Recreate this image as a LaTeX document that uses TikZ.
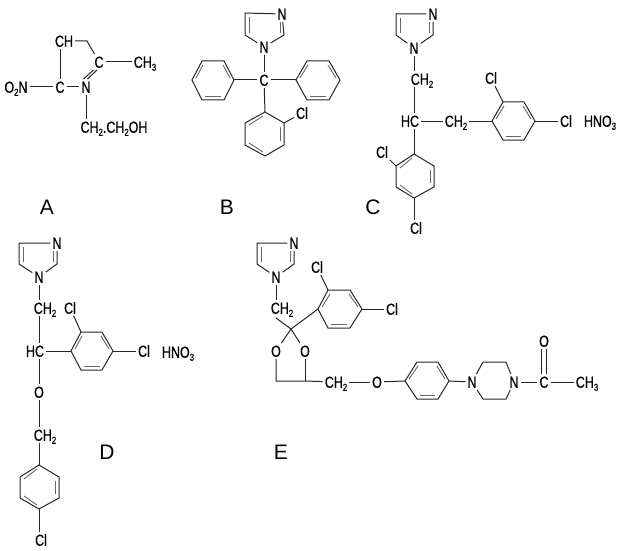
\documentclass[tikz,border=0pt]{standalone}
\usepackage{fontspec}
\setmainfont{Liberation Sans}
\newfontfamily\atomfont[FakeStretch=0.78,FakeBold=0.6]{Liberation Sans}
\newcommand{\lowidx}[1]{\raisebox{-3pt}{\fontsize{10}{10}\selectfont #1}}
\tikzset{
  atom/.style={inner sep=2pt, text height=11.5pt, text depth=0pt, font=\atomfont\fontsize{16}{16}\selectfont},
  tag/.style={inner sep=0pt, text height=15pt, text depth=0pt, font=\fontsize{21}{21}\selectfont},
  bond/.style={black!85, line width=1pt},
  inbond/.style={black!60, line width=.9pt}
}
\begin{document}
\begin{tikzpicture}[x=1pt,y=-1pt]
\useasboundingbox (0,0) rectangle (619,551);
% Nodes
\node[atom] (aCH) at (64,41) {CH};
\node[atom] (aCb) at (99,62) {C};
\node[atom] (aMe) at (145,62) {CH\lowidx{3}};
\node[atom] (aNO) at (16,87) {O\lowidx{2}N};
\node[atom] (aC) at (60,87) {C};
\node[atom] (aN) at (86,87) {N};
\node[atom] (aEt) at (114,127) {CH\lowidx{2}.CH\lowidx{2}OH};
\node[atom] (bNt) at (282,14) {N};
\node[atom] (bN) at (264,47) {N};
\node[atom] (bC) at (264,80) {C};
\node[atom] (bCl) at (302,113) {Cl};
\node[atom] (cNt) at (433,14) {N};
\node[atom] (cN) at (414,48) {N};
\node[atom] (cCHa) at (422,79) {CH\lowidx{2}};
\node[atom] (cHC) at (410,121) {HC};
\node[atom] (cCHb) at (456,121) {CH\lowidx{2}};
\node[atom] (cClt) at (491,78) {Cl};
\node[atom] (cClr) at (566,121) {Cl};
\node[atom] (cAcid) at (600,121) {HNO\lowidx{3}};
\node[atom] (cClb) at (382,152) {Cl};
\node[atom] (cCld) at (416,228) {Cl};
\node[atom] (dNt) at (57,243) {N};
\node[atom] (dN) at (39,277) {N};
\node[atom] (dCHa) at (45,308) {CH\lowidx{2}};
\node[atom] (dHC) at (35,351) {HC};
\node[atom] (dClt) at (70,308) {Cl};
\node[atom] (dClr) at (144,351) {Cl};
\node[atom] (dAcid) at (178,352) {HNO\lowidx{3}};
\node[atom] (dO) at (39,392) {O};
\node[atom] (dCHb) at (45,435) {CH\lowidx{2}};
\node[atom] (dCld) at (41,540) {Cl};
\node[atom] (eNt) at (294,243) {N};
\node[atom] (eN) at (276,277) {N};
\node[atom] (eCHa) at (282,308) {CH\lowidx{2}};
\node[atom] (eClt) at (317,267) {Cl};
\node[atom] (eClr) at (392,309) {Cl};
\node[atom] (eOa) at (276,351) {O};
\node[atom] (eOb) at (305,351) {O};
\node[atom] (eCHb) at (336,382) {CH\lowidx{2}};
\node[atom] (eO) at (377,382) {O};
\node[atom] (eNa) at (472,382) {N};
\node[atom] (eNb) at (514,382) {N};
\node[atom] (eCO) at (544,382) {C};
\node[atom] (eOt) at (544,341) {O};
\node[atom] (eMe) at (587,382) {CH\lowidx{3}};
\node[tag] (tagA) at (47,207) {A};
\node[tag] (tagB) at (227,207) {B};
\node[tag] (tagC) at (373,207) {C};
\node[tag] (tagD) at (107,452) {D};
\node[tag] (tagE) at (281,452) {E};
% Ring corners that carry a bond
\coordinate (aBend) at (87,41);
\coordinate (bLr) at (234,80);
\coordinate (bRl) at (296,80);
\coordinate (bBt) at (265,112);
\coordinate (bBc) at (284,123);
\coordinate (cRl) at (492,121);
\coordinate (cRt) at (503,102);
\coordinate (cRr) at (535,121);
\coordinate (cBt) at (414,154);
\coordinate (cBl) at (396,166);
\coordinate (cBb) at (414,198);
\coordinate (dRl) at (71,351);
\coordinate (dRt) at (81,332);
\coordinate (dRr) at (113,351);
\coordinate (dBt) at (39,465);
\coordinate (dBb) at (39,509);
\coordinate (eX) at (291,329);
\coordinate (eXa) at (276,318);
\coordinate (eRl) at (318,309);
\coordinate (eRt) at (328,290);
\coordinate (eRr) at (362,309);
\coordinate (eFa) at (276,381);
\coordinate (eFb) at (305,381);
\coordinate (ePl) at (405,381);
\coordinate (ePr) at (449,381);
% Lines A
\draw[bond] (aCH) -- (aBend) -- (aCb);
\draw[bond] (aC |- aCH.south) -- (aC);
\draw[bond] (aCb) -- (aMe);
\draw[bond] (aNO) -- (aC);
\draw[bond] (aC) -- (aN);
\draw[bond] ([xshift=-2pt]aCb.south) -- ([xshift=1.5pt]aN.north);
\draw[bond] ([xshift=-5.5pt]aCb.south) -- ([xshift=-2.5pt]aN.north);
\draw[bond] (aN) -- (aN |- aEt.north);
% Lines B
\draw[bond] (bN) -- (245,35) -- (245,13) -- (bNt);
\draw[bond] (bN) -- (284,35) -- (bNt);
\draw[inbond] (249,33) -- (249,17);
\draw[inbond] (280,33) -- (280,22);
\draw[bond] (bN) -- (bC);
\draw[bond] (bC) -- (bLr);
\draw[bond] (bC) -- (bRl);
\draw[bond] (bC) -- (bBt);
\draw[bond] (bBc) -- (bCl);
\draw[bond] (192,80) -- (202,61) -- (224,61) -- (bLr) -- (224,100) -- (202,100) -- cycle;
\draw[inbond] (196,78) -- (203,65);
\draw[inbond] (223,65) -- (230,78);
\draw[inbond] (205,96) -- (221,96);
\draw[bond] (bRl) -- (307,61) -- (329,61) -- (340,80) -- (329,100) -- (307,100) -- cycle;
\draw[inbond] (300,78) -- (308,65);
\draw[inbond] (328,65) -- (336,78);
\draw[inbond] (310,96) -- (326,96);
\draw[bond] (bBt) -- (bBc) -- (284,145) -- (265,156) -- (245,145) -- (245,123) -- cycle;
\draw[inbond] (263,116) -- (249,125);
\draw[inbond] (280,127) -- (280,141);
\draw[inbond] (249,143) -- (263,152);
% Lines C
\draw[bond] (cN) -- (396,35) -- (396,14) -- (cNt);
\draw[bond] (cN) -- (433,35) -- (cNt);
\draw[inbond] (400,33) -- (400,18);
\draw[inbond] (429,33) -- (429,22);
\draw[bond] (cN) -- (cN |- cCHa.north);
\draw[bond] (cN |- cCHa.south) -- (cN |- cHC.north);
\draw[bond] (cN |- cHC.south) -- (cBt);
\draw[bond] (cHC) -- (cCHb);
\draw[bond] (cCHb) -- (cRl);
\draw[bond] (cRt) -- (cClt);
\draw[bond] (cRr) -- (cClr);
\draw[bond] (cBl) -- (cClb);
\draw[bond] (cBb) -- (cBb |- cCld.north);
\draw[bond] (cRl) -- (cRt) -- (524,102) -- (cRr) -- (524,140) -- (503,140) -- cycle;
\draw[inbond] (496,119) -- (504,106);
\draw[inbond] (523,106) -- (531,119);
\draw[inbond] (506,136) -- (521,136);
\draw[bond] (cBt) -- (434,166) -- (434,187) -- (cBb) -- (396,187) -- (cBl) -- cycle;
\draw[inbond] (412,158) -- (400,168);
\draw[inbond] (430,170) -- (430,183);
\draw[inbond] (400,185) -- (412,194);
% Lines D
\draw[bond] (dN) -- (19,264) -- (19,243) -- (dNt);
\draw[bond] (dN) -- (57,264) -- (dNt);
\draw[inbond] (23,262) -- (23,247);
\draw[inbond] (53,262) -- (53,251);
\draw[bond] (dN) -- (dN |- dCHa.north);
\draw[bond] (dN |- dCHa.south) -- (dN |- dHC.north);
\draw[bond] (dN |- dHC.south) -- (dO);
\draw[bond] (dHC) -- (dRl);
\draw[bond] (dRt) -- (dClt);
\draw[bond] (dRr) -- (dClr);
\draw[bond] (dO) -- (dO |- dCHb.north);
\draw[bond] (dO |- dCHb.south) -- (dBt);
\draw[bond] (dBb) -- (dBb |- dCld.north);
\draw[bond] (dRl) -- (dRt) -- (102,332) -- (dRr) -- (102,370) -- (81,370) -- cycle;
\draw[inbond] (75,349) -- (82,336);
\draw[inbond] (101,336) -- (109,349);
\draw[inbond] (84,366) -- (100,366);
\draw[bond] (dBt) -- (59,477) -- (59,498) -- (dBb) -- (20,498) -- (20,477) -- cycle;
\draw[inbond] (37,469) -- (24,479);
\draw[inbond] (55,481) -- (55,494);
\draw[inbond] (24,496) -- (37,505);
% Lines E
\draw[bond] (eN) -- (257,264) -- (257,243) -- (eNt);
\draw[bond] (eN) -- (294,264) -- (eNt);
\draw[inbond] (261,262) -- (261,247);
\draw[inbond] (290,262) -- (290,251);
\draw[bond] (eN) -- (eN |- eCHa.north);
\draw[bond] (eXa) -- (eX) -- (eOb);
\draw[bond] (eOa) -- (eX) -- (eRl);
\draw[bond] (eRt) -- (eClt);
\draw[bond] (eRr) -- (eClr);
\draw[bond] (eRl) -- (eRt) -- (350,290) -- (eRr) -- (350,328) -- (328,328) -- cycle;
\draw[inbond] (322,307) -- (330,294);
\draw[inbond] (349,294) -- (358,307);
\draw[inbond] (331,324) -- (347,324);
\draw[bond] (eOa) -- (eFa) -- (eFb) -- (eCHb);
\draw[bond] (eOb) -- (eFb);
\draw[bond] (eCHb) -- (eO);
\draw[bond] (eO) -- (ePl);
\draw[bond] (ePl) -- (417,362) -- (438,362) -- (ePr) -- (438,399) -- (417,399) -- cycle;
\draw[inbond] (409,379) -- (418,366);
\draw[inbond] (437,366) -- (445,379);
\draw[inbond] (420,395) -- (435,395);
\draw[bond] (ePr) -- (eNa);
\draw[bond] (eNa) -- (483,362) -- (506,362) -- (eNb);
\draw[bond] (eNa) -- (483,399) -- (506,399) -- (eNb);
\draw[bond] (eNb) -- (eCO);
\draw[bond] (eCO) -- (eMe);
\draw[bond] ([xshift=-2.5pt]eCO.north) -- ([xshift=-2.5pt]eOt.south);
\draw[bond] ([xshift=2.5pt]eCO.north) -- ([xshift=2.5pt]eOt.south);
\end{tikzpicture}
\end{document}
